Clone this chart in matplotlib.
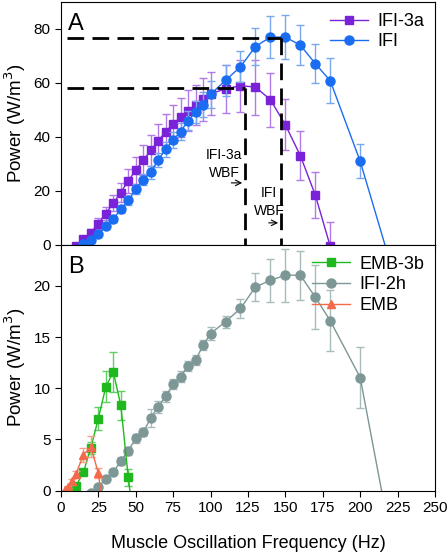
import matplotlib
matplotlib.use('Agg')
import matplotlib.pyplot as plt

plt.rcParams['font.family'] = ['Liberation Sans', 'DejaVu Sans']

# panel A data
ifi3a_x = [10, 15, 20, 25, 30, 35, 40, 45, 50, 55, 60, 65, 70, 75, 80, 85, 90, 95, 100,
           110, 120, 130, 140, 150, 160, 170, 180]
ifi3a_y = [-0.5, 2.1, 4.6, 7.9, 11.6, 15.6, 19.4, 23.8, 27.7, 31.4, 35.0, 38.6, 42.0, 44.8, 47.3, 49.8, 51.8, 54.0, 56.0,
           57.8, 59.0, 58.5, 53.8, 44.5, 33.1, 18.5, -0.5]
ifi3a_err = [0.5, 1.0, 1.5, 2.0, 2.5, 3.0, 3.5, 4.5, 5.0, 5.5, 5.8, 6.3, 6.6, 7.0, 7.2, 7.5, 7.5, 8.0, 8.0,
             9.0, 9.6, 10.2, 10.0, 9.5, 9.0, 8.5, 9.0]

ifi_x = [15, 20, 25, 30, 35, 40, 45, 50, 55, 60, 65, 70, 75, 80, 85, 90, 95, 100,
         110, 120, 130, 140, 150, 160, 170, 180, 200, 220]
ifi_y = [0.3, 1.8, 4.0, 6.9, 9.7, 13.2, 16.5, 20.7, 24.2, 26.9, 31.5, 35.5, 38.9, 42.0, 46.0, 49.2, 52.0, 55.8,
         61.0, 66.0, 73.5, 77.0, 77.0, 74.0, 67.2, 60.8, 31.0, -6.4]
ifi_err = [0.5, 0.6, 0.8, 1.0, 1.2, 1.4, 1.6, 1.8, 2.0, 2.3, 2.5, 2.8, 3.0, 3.2, 3.5, 4.0, 4.5, 5.0,
           5.8, 5.8, 6.8, 7.8, 8.0, 7.5, 7.3, 8.3, 6.3, 6.0]

# panel B data
emb3b_x = [7.5, 10, 15, 20, 25, 30, 35, 40, 45, 50]
emb3b_y = [0.0, 0.45, 1.8, 4.2, 7.05, 10.15, 11.6, 8.35, 1.3, -4.6]
emb3b_err = [0.1, 0.15, 0.3, 0.6, 1.1, 1.5, 1.95, 1.4, 0.8, 0.8]

ifi2h_x = [20, 25, 30, 35, 40, 45, 50, 55, 60, 65, 70, 75, 80, 85, 90, 95, 100,
           110, 120, 130, 140, 150, 160, 170, 180, 200, 220]
ifi2h_y = [-0.2, 0.4, 1.15, 1.8, 2.9, 3.9, 5.1, 5.7, 7.1, 8.2, 9.2, 10.4, 11.15, 12.2, 12.75, 14.2, 15.35,
           16.5, 17.8, 19.9, 20.55, 21.05, 21.05, 18.9, 16.6, 11.05, -4.4]
ifi2h_err = [0.1, 0.1, 0.2, 0.3, 0.35, 0.4, 0.4, 0.4, 0.9, 0.6, 0.5, 0.5, 0.5, 0.5, 0.5, 0.5, 0.6,
             0.6, 0.9, 1.4, 2.1, 2.6, 2.4, 3.1, 3.0, 3.0, 3.0]

emb_x = [2.5, 5, 7.5, 10, 15, 20, 25, 30]
emb_y = [0.05, 0.4, 0.9, 1.6, 3.5, 4.3, 1.7, -3.6]
emb_err = [0.05, 0.1, 0.2, 0.3, 0.7, 1.0, 0.5, 0.5]

xticks = [0, 25, 50, 75, 100, 125, 150, 175, 200, 225, 250]

fig = plt.figure(figsize=(4.48, 5.55), dpi=100)
axA = fig.add_axes([0.136, 0.5586, 0.835, 0.4378])
axB = fig.add_axes([0.136, 0.1159, 0.835, 0.4427])


def series(ax, x, y, e, color, ecolor, marker, ms, label):
    ax.errorbar(x, y, yerr=e, fmt='none', ecolor=ecolor, elinewidth=1, capsize=3, capthick=1)
    ax.plot(x, y, color=color, marker=marker, ms=ms, lw=1, label=label)


series(axA, ifi3a_x, ifi3a_y, ifi3a_err, '#7a22d8', '#b07ae8', 's', 5.5, 'IFI-3a')
series(axA, ifi_x, ifi_y, ifi_err, '#1a6df0', '#7aa8f0', 'o', 6.5, 'IFI')

# wing beat frequency guides
axA.plot([4, 147], [76.5, 76.5], 'k--', lw=2, dashes=(6, 3))
axA.plot([147, 147], [76.5, 0], 'k--', lw=2, dashes=(6, 3))
axA.plot([4, 123], [58.2, 58.2], 'k--', lw=2, dashes=(6, 3))
axA.plot([123, 123], [58.2, 0], 'k--', lw=2, dashes=(6, 3))
axA.text(109, 30, 'IFI-3a\nWBF', ha='center', va='center', fontsize=10, linespacing=1.35)
axA.text(139, 15.8, 'IFI\nWBF', ha='center', va='center', fontsize=10, linespacing=1.35)
axA.annotate('', xy=(123, 23), xytext=(112, 23),
             arrowprops=dict(arrowstyle='->', lw=0.8, color='k'))
axA.annotate('', xy=(147, 8.2), xytext=(137, 8.2),
             arrowprops=dict(arrowstyle='->', lw=0.8, color='k'))

series(axB, ifi2h_x, ifi2h_y, ifi2h_err, '#7d9696', '#a9bcbc', 'o', 6.5, 'IFI-2h')
series(axB, emb3b_x, emb3b_y, emb3b_err, '#1fb81f', '#5fd05f', 's', 5.5, 'EMB-3b')
series(axB, emb_x, emb_y, emb_err, '#f26a4a', '#f5a08a', '^', 6, 'EMB')

axA.set_ylim(0, 90)
axA.set_yticks([0, 20, 40, 60, 80])
axB.set_ylim(0, 24)
axB.set_yticks([0, 5, 10, 15, 20])
for ax in (axA, axB):
    ax.set_xlim(0, 250)
    ax.set_xticks(xticks)
    ax.tick_params(labelsize=11, length=4, direction='out')
    ax.set_ylabel('Power (W/m$^3$)', fontsize=13.5, labelpad=4)
axA.tick_params(labelbottom=False)
axB.set_xlabel('Muscle Oscillation Frequency (Hz)', fontsize=13, labelpad=14)

axA.text(0.02, 0.955, 'A', transform=axA.transAxes, fontsize=17, va='top')
axB.text(0.02, 0.955, 'B', transform=axB.transAxes, fontsize=17, va='top')

axA.legend(loc='upper right', frameon=False, fontsize=13, handlelength=2.1,
           borderaxespad=0.2, handletextpad=0.5, labelspacing=0.2)
h, l = axB.get_legend_handles_labels()
order = [1, 0, 2]
axB.legend([h[i] for i in order], [l[i] for i in order], loc='upper right', frameon=False,
           fontsize=13, handlelength=2.1, borderaxespad=0.2, handletextpad=0.5, labelspacing=0.2)

fig.savefig('out.png', dpi=100)
